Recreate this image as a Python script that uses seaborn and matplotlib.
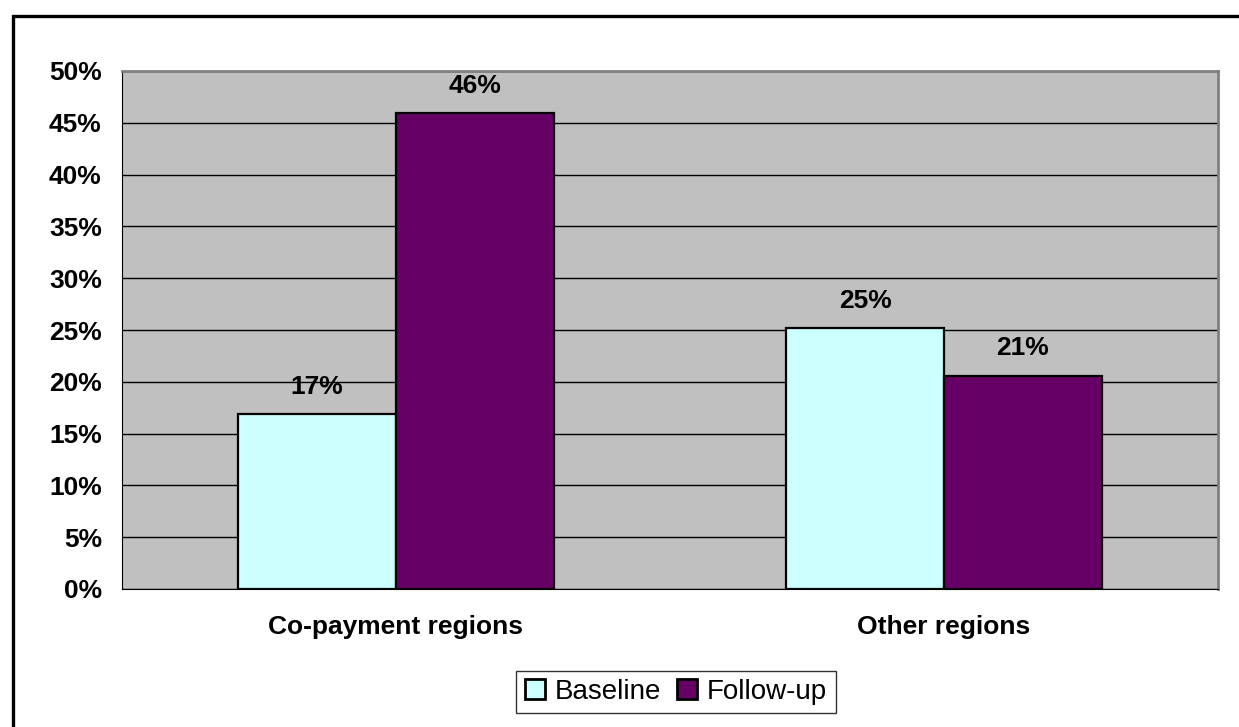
import pandas as pd
import seaborn as sns
import matplotlib.pyplot as plt
from matplotlib.patches import Rectangle
from matplotlib.ticker import PercentFormatter

# Données
regions = ["Co-payment regions", "Other regions"]
periodes = ["Baseline", "Follow-up"]
baseline = [16.9, 25.2]
follow_up = [45.9, 20.6]
etiquettes_baseline = ["17%", "25%"]
etiquettes_follow = ["46%", "21%"]
couleurs = ["#CCFFFF", "#660066"]

df = pd.DataFrame({
    "region": regions * 2,
    "periode": [periodes[0]] * 2 + [periodes[1]] * 2,
    "valeur": baseline + follow_up,
})

sns.set_style("white")
plt.rcParams['font.family'] = ['Liberation Sans', 'DejaVu Sans']
plt.rcParams['text.color'] = 'black'
plt.rcParams['xtick.color'] = 'black'
plt.rcParams['ytick.color'] = 'black'

fig = plt.figure(figsize=(12.39, 7.27), dpi=100)
ax = fig.add_axes([122 / 1239, 1 - 589 / 727, (1218 - 122) / 1239, (589 - 71) / 727])
ax.set_facecolor("#C0C0C0")

sns.barplot(data=df, x="region", y="valeur", hue="periode", palette=couleurs,
            width=0.575, edgecolor="black", linewidth=1.6, saturation=1,
            ax=ax, zorder=3)

# Etiquettes des barres
for cont, labels in zip(ax.containers, [etiquettes_baseline, etiquettes_follow]):
    ax.bar_label(cont, labels=labels, padding=11, fontsize=19,
                 fontweight="bold", color="black")

ax.set_ylim(0, 50)
ax.set_xlim(-0.5, 1.5)
ax.set_yticks(range(0, 51, 5))
ax.yaxis.set_major_formatter(PercentFormatter(decimals=0))
ax.yaxis.grid(True, color="black", linewidth=1)
ax.set_axisbelow(True)

ax.set_xticks([0, 1])
ax.set_xticklabels(regions, fontsize=19, fontweight="bold", color="black")
ax.set_xticks([-0.5, 0.5, 1.5], minor=True)
ax.tick_params(axis="x", which="major", length=0, pad=19)
ax.tick_params(axis="x", which="minor", length=6.5, width=1, color="black", direction="out")
ax.tick_params(axis="y", length=6.5, width=1, color="black", direction="out",
               labelsize=19, pad=8, labelcolor="black")
for t in ax.get_yticklabels():
    t.set_fontweight("bold")

ax.set_xlabel("")
ax.set_ylabel("")

ax.spines["left"].set_color("black")
ax.spines["bottom"].set_color("black")
ax.spines["top"].set_color("#808080")
ax.spines["right"].set_color("#808080")
ax.spines["top"].set_linewidth(2)
ax.spines["right"].set_linewidth(2)

# Légende
leg = ax.legend(loc="center", bbox_to_anchor=(0.5055, -0.199), ncol=2, frameon=True,
                fancybox=False, edgecolor="black", fontsize=20, handlelength=0.72,
                handleheight=0.72, handletextpad=0.35, columnspacing=0.6,
                borderpad=0.3, borderaxespad=0, title=None)
leg.get_frame().set_linewidth(1)
for h in leg.legend_handles:
    h.set_linewidth(2)
    h.set_edgecolor("black")

# Cadre extérieur
fig.patches.append(Rectangle((13 / 1239, -0.1), 1.2, 1 - 15.5 / 727 + 0.1,
                             transform=fig.transFigure, fill=False,
                             edgecolor="black", linewidth=2.4))

fig.savefig("out.png", dpi=100)
